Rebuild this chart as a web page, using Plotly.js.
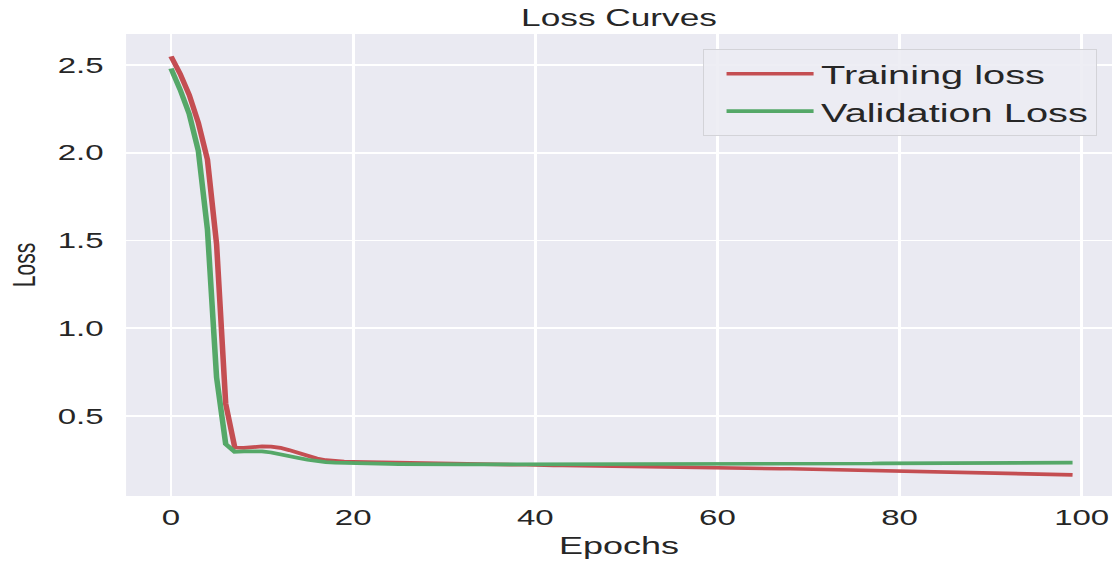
<!DOCTYPE html>
<html>
<head>
<meta charset="utf-8">
<script src="https://cdn.plot.ly/plotly-3.0.1.min.js"></script>
<style>
html,body{margin:0;padding:0;background:#fff;overflow:hidden;}
#wrap{width:741px;height:561px;transform:scaleX(1.50067);transform-origin:0 0;}
#plot{width:741px;height:561px;}
</style>
</head>
<body>
<div id="wrap"><div id="plot"></div></div>
<script>
// Epochs 0..99
const epochs = Array.from({length: 100}, (_, i) => i);

const trainingLoss = [
  2.550, 2.450, 2.330, 2.170, 1.960, 1.480, 0.570, 0.320, 0.318, 0.324,
  0.327, 0.325, 0.318, 0.305, 0.290, 0.272, 0.258, 0.248, 0.243, 0.240,
  0.239, 0.238, 0.237, 0.236, 0.234, 0.232, 0.230, 0.229, 0.228, 0.227,
  0.226, 0.226, 0.225, 0.225, 0.224, 0.224, 0.223, 0.223, 0.222, 0.222,
  0.219, 0.219, 0.218, 0.218, 0.217, 0.216, 0.216, 0.215, 0.214, 0.214,
  0.213, 0.212, 0.212, 0.211, 0.210, 0.209, 0.208, 0.208, 0.207, 0.206,
  0.205, 0.204, 0.203, 0.203, 0.202, 0.201, 0.200, 0.199, 0.199, 0.198,
  0.197, 0.196, 0.195, 0.194, 0.193, 0.192, 0.191, 0.190, 0.189, 0.188,
  0.187, 0.186, 0.185, 0.184, 0.183, 0.182, 0.181, 0.180, 0.178, 0.177,
  0.176, 0.175, 0.174, 0.173, 0.172, 0.170, 0.169, 0.167, 0.166, 0.164
];

const validationLoss = [
  2.480, 2.360, 2.220, 2.010, 1.560, 0.720, 0.340, 0.295, 0.298, 0.300,
  0.298, 0.292, 0.283, 0.272, 0.260, 0.250, 0.242, 0.237, 0.234, 0.232,
  0.231, 0.230, 0.229, 0.228, 0.227, 0.226, 0.225, 0.225, 0.225, 0.224,
  0.224, 0.224, 0.224, 0.224, 0.224, 0.224, 0.224, 0.224, 0.224, 0.224,
  0.224, 0.224, 0.224, 0.224, 0.225, 0.225, 0.225, 0.225, 0.225, 0.225,
  0.225, 0.225, 0.226, 0.226, 0.226, 0.226, 0.226, 0.226, 0.227, 0.227,
  0.227, 0.227, 0.227, 0.227, 0.227, 0.228, 0.228, 0.228, 0.228, 0.228,
  0.228, 0.228, 0.229, 0.229, 0.229, 0.229, 0.229, 0.229, 0.230, 0.230,
  0.230, 0.230, 0.230, 0.231, 0.231, 0.231, 0.231, 0.231, 0.232, 0.232,
  0.232, 0.232, 0.232, 0.233, 0.233, 0.233, 0.233, 0.234, 0.234, 0.234
];

const xTicks = [0, 20, 40, 60, 80, 100];
const yTicks = [0.5, 1.0, 1.5, 2.0, 2.5];
const yTickText = ['0.5', '1.0', '1.5', '2.0', '2.5'];

const FONT = 'Liberation Sans, Arial, sans-serif';
const TXT = '#262626';

const traces = [
  {x: epochs, y: trainingLoss, type: 'scatter', mode: 'lines', name: 'Training loss',
   line: {color: '#C44E52', width: 3.7}},
  {x: epochs, y: validationLoss, type: 'scatter', mode: 'lines', name: 'Validation Loss',
   line: {color: '#55A868', width: 3.7}}
];

const layout = {
  width: 741, height: 561,
  margin: {l: 84, r: 0, t: 34, b: 65.3, pad: 0},
  paper_bgcolor: '#ffffff',
  plot_bgcolor: '#EAEAF2',
  font: {family: FONT, color: TXT},
  title: {text: 'Loss Curves', font: {size: 23.5, color: TXT, family: FONT},
          xref: 'paper', x: 0.5, xanchor: 'center', yref: 'container', y: 0.968, yanchor: 'middle'},
  xaxis: {
    range: [-4.94, 103.33], tickvals: xTicks, ticktext: xTicks.map(String),
    showgrid: true, gridcolor: '#ffffff', gridwidth: 1.8, zeroline: false,
    showline: false, ticks: '', ticklabelstandoff: 6,
    tickfont: {size: 22, color: TXT, family: FONT},
    title: {text: 'Epochs', font: {size: 24, color: TXT, family: FONT}, standoff: 8},
    automargin: false
  },
  yaxis: {
    range: [0.0438, 2.677], tickvals: yTicks, ticktext: yTickText,
    showgrid: true, gridcolor: '#ffffff', gridwidth: 1.8, zeroline: false,
    showline: false, ticks: '', ticklabelstandoff: 14,
    tickfont: {size: 22, color: TXT, family: FONT},
    title: {text: 'Loss', font: {size: 21, color: TXT, family: FONT}, standoff: 8},
    automargin: false
  },
  legend: {
    x: 0.985, xanchor: 'right', y: 0.9675, yanchor: 'top',
    bgcolor: 'rgba(236,236,243,0.9)', bordercolor: '#d3d3d8', borderwidth: 1,
    font: {size: 26.5, color: TXT, family: FONT},
    itemwidth: 58, indentation: 10
  },
  showlegend: true
};

Plotly.newPlot('plot', traces, layout, {displayModeBar: false, staticPlot: true});
</script>
</body>
</html>
